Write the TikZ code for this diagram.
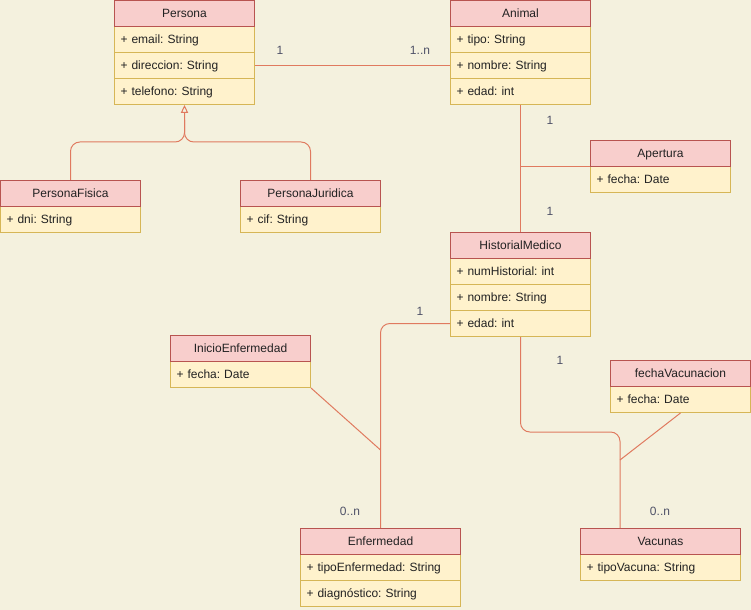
\documentclass[tikz,border=0pt]{standalone}
\usepackage{fontspec}
\setmainfont{Liberation Sans}
\usetikzlibrary{arrows.meta}
\frenchspacing
\definecolor{bg}{HTML}{F4F1DE}
\definecolor{hdrfill}{HTML}{F8CECC}
\definecolor{hdrline}{HTML}{B85450}
\definecolor{rowfill}{HTML}{FFF2CC}
\definecolor{rowline}{HTML}{D6B656}
\definecolor{conncol}{HTML}{E07A5F}
\definecolor{lblcol}{HTML}{4F5268}
\definecolor{txtcol}{HTML}{222222}
\tikzset{
  head/.style={draw=hdrline, fill=hdrfill, anchor=north west, minimum height=19.5pt,
    inner sep=0pt, align=center, text=txtcol, line width=0.75pt,
    text height=7.7pt, text depth=1.3pt},
  row/.style={draw=rowline, fill=rowfill, anchor=north west, minimum height=19.5pt,
    inner xsep=4.5pt, inner ysep=0pt, align=left, text=txtcol, line width=0.75pt,
    text height=7.7pt, text depth=1.3pt},
  wa/.style={minimum width=105pt},
  ra/.style={text width=96pt},
  wb/.style={minimum width=120pt},
  rb/.style={text width=111pt},
  conn/.style={draw=conncol, line width=0.75pt},
  lbl/.style={text=lblcol, inner sep=0pt}
}
\begin{document}
\begin{tikzpicture}[x=0.75pt, y=-0.75pt, font=\fontsize{9pt}{11pt}\selectfont\frenchspacing]
\fill[bg] (0,0) rectangle (751,610);
\useasboundingbox (0,0) rectangle (751,610);

% Persona
\node[row,ra] (P1) at (114,26) {+ email: String};
\node[row,ra] (P2) at (114,52) {+ direccion: String};
\node[row,ra] (P3) at (114,78) {+ telefono: String};
\node[head,wa] (P) at (114,0) {Persona};
% Animal
\node[row,ra] (A1) at (450,26) {+ tipo: String};
\node[row,ra] (A2) at (450,52) {+ nombre: String};
\node[row,ra] (A3) at (450,78) {+ edad: int};
\node[head,wa] (A) at (450,0) {Animal};
% PersonaFisica
\node[row,ra] (PF1) at (0,206) {+ dni: String};
\node[head,wa] (PF) at (0,180) {PersonaFisica};
% PersonaJuridica
\node[row,ra] (PJ1) at (240,206) {+ cif: String};
\node[head,wa] (PJ) at (240,180) {PersonaJuridica};
% Apertura
\node[row,ra] (Ap1) at (590,166) {+ fecha: Date};
\node[head,wa] (Ap) at (590,140) {Apertura};
% HistorialMedico
\node[row,ra] (H1) at (450,258) {+ numHistorial: int};
\node[row,ra] (H2) at (450,284) {+ nombre: String};
\node[row,ra] (H3) at (450,310) {+ edad: int};
\node[head,wa] (H) at (450,232) {HistorialMedico};
% InicioEnfermedad
\node[row,ra] (I1) at (170,361) {+ fecha: Date};
\node[head,wa] (I) at (170,335) {InicioEnfermedad};
% fechaVacunacion
\node[row,ra] (F1) at (610,386) {+ fecha: Date};
\node[head,wa] (F) at (610,360) {fechaVacunacion};
% Enfermedad
\node[row,rb] (E1) at (300,554) {+ tipoEnfermedad: String};
\node[row,rb] (E2) at (300,580) {+ diagnóstico: String};
\node[head,wb] (E) at (300,528) {Enfermedad};
% Vacunas
\node[row,rb] (V1) at (580,554) {+ tipoVacuna: String};
\node[head,wb] (V) at (580,528) {Vacunas};

% connectors
\draw[conn] (P2.east) -- (A2.west);
\draw[conn, rounded corners=7pt, -{Triangle[open, length=6pt, width=5.5pt]}]
  (PF.north) -- (PF.north |- 0,142) -- (P3.south |- 0,142) -- (P3.south);
\draw[conn, rounded corners=7pt]
  (PJ.north) -- (PJ.north |- 0,142) -- (P3.south |- 0,142) -- (P3.south |- 0,120);
\draw[conn] (A3.south) -- (H.north);
\coordinate (apj) at (H.north |- Ap.south west);
\draw[conn] (Ap.south west) -- (apj);
\draw[conn, rounded corners=7pt] (H3.west) -- (H3.west -| E.north) -- (E.north);
\coordinate (emid) at (E.north |- 0,450);
\draw[conn] (I1.south east) -- (emid);
\coordinate (vtop) at ([xshift=30pt]V.north west);
\draw[conn, rounded corners=7pt] (H3.south) -- (H3.south |- 0,432) -- (vtop |- 0,432) -- (vtop);
\coordinate (vmid) at (vtop |- 0,460);
\draw[conn] (F1.south) -- (vmid);

% multiplicities
\node[lbl] (m1) at (280,50) {1};
\node[lbl] (m2) at (420,50) {1..n};
\node[lbl] (m3) at (550,120) {1};
\node[lbl] (m4) at (550,211) {1};
\node[lbl] (m5) at (420,311) {1};
\node[lbl] (m6) at (350,511) {0..n};
\node[lbl] (m7) at (560,360) {1};
\node[lbl] (m8) at (660,511) {0..n};
\end{tikzpicture}
\end{document}
